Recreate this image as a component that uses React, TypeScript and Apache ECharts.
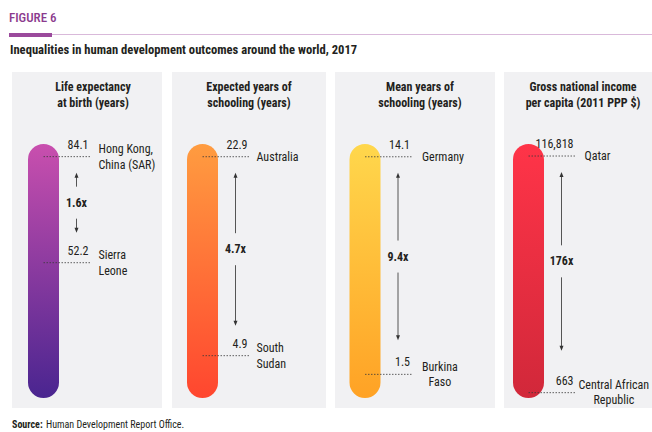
import React, { useEffect, useRef } from "react";
import * as echarts from "echarts";

// ---- data ----
const metricTitles = [
  "Life expectancy\nat birth (years)",
  "Expected years of\nschooling (years)",
  "Mean years of\nschooling (years)",
  "Gross national income\nper capita (2011 PPP $)",
];
const highValues = [84.1, 22.9, 14.1, 116818];
const highCountries = ["Hong Kong,\nChina (SAR)", "Australia", "Germany", "Qatar"];
const lowValues = [52.2, 4.9, 1.5, 663];
const lowCountries = ["Sierra\nLeone", "South\nSudan", "Burkina\nFaso", "Central African\nRepublic"];
const ratioLabels = ["1.6x", "4.7x", "9.4x", "176x"];
const valueDecimals = [1, 1, 1, 0];

// ---- layout / style ----
const FONT = "'Liberation Sans Narrow', 'Roboto Condensed', 'DejaVu Sans Condensed', 'Liberation Sans', sans-serif";
const panelRects = [
  [12, 72, 150, 336],
  [172, 72, 154, 336],
  [335, 72, 160, 336],
  [504, 72, 148, 336],
];
const barCenters = [43.5, 202.5, 365, 528.5];
const titleCenters = [93, 249, 420, 583];
const axisTypes = ["value", "value", "value", "log"];
const axisMins = [11.5, 1.07, 0.13, 590];
const axisMaxs = [87.9, 24.05, 14.84, 151900];
const countryAlign = ["left", "left", "center", "center"];
const highCountryGap = [7, 6, 9, 8];
const lowCountryGap = [7, 6, 9, 2];
const arrowEndGap = [30, 30, 34, 42];
const barGradients = [
  ["#c94fae", "#4a2590"],
  ["#ff9c40", "#ff462f"],
  ["#ffd74c", "#ffa225"],
  ["#ff3448", "#d1283a"],
];

const BAR_W = 31;
const BAR_TOP = 144;
const BAR_H = 254;

function fmt(v: number, d: number) {
  return v.toLocaleString("en-US", { minimumFractionDigits: d, maximumFractionDigits: d });
}

function countryText(label: string, align: string, x: number, y: number) {
  const lines = label.split("\n");
  if (align === "center") {
    return {
      type: "text",
      style: {
        text: lines.map((l) => "{c|" + l + "}").join("\n"),
        x,
        y,
        align: "left",
        verticalAlign: "middle",
        rich: {
          c: { align: "center", fontSize: 12, fontFamily: FONT, fill: "#231f20", lineHeight: 15.5 },
        },
      },
    };
  }
  return {
    type: "text",
    style: {
      text: label,
      x,
      y,
      align: "left",
      verticalAlign: "middle",
      fontSize: 12,
      fontFamily: FONT,
      fill: "#231f20",
      lineHeight: 16,
    },
  };
}

function makeRenderItem(i: number) {
  return (params: any, api: any) => {
    const cs = params.coordSys;
    const cx = cs.x + cs.width / 2;
    const hi = api.value(1);
    const lo = api.value(2);
    const yHi = api.coord([0.5, hi])[1];
    const yLo = api.coord([0.5, lo])[1];
    const lineEnd = cx + 48;
    const ax = cx + 33;
    const upTip = yHi + 16;
    const downTip = yLo - arrowEndGap[i];
    const mid = (upTip + downTip) / 2;
    const children: any[] = [
      {
        type: "rect",
        shape: { x: cs.x, y: cs.y, width: cs.width, height: cs.height, r: cs.width / 2 },
        style: {
          fill: new echarts.graphic.LinearGradient(0, 0, 0, 1, [
            { offset: 0, color: barGradients[i][0] },
            { offset: 1, color: barGradients[i][1] },
          ]),
        },
      },
    ];
    const marks: [number, number, string, number][] = [
      [yHi, hi, highCountries[i], highCountryGap[i]],
      [yLo, lo, lowCountries[i], lowCountryGap[i]],
    ];
    marks.forEach(([y, v, c, g]) => {
      children.push({
        type: "line",
        shape: { x1: cx, y1: y, x2: lineEnd, y2: y },
        style: { stroke: "#3a3a3a", lineWidth: 0.8, lineDash: [1.5, 1.5] },
      });
      children.push({
        type: "text",
        style: {
          text: fmt(v, valueDecimals[i]),
          x: lineEnd - 3,
          y: y - 12,
          align: "right",
          verticalAlign: "middle",
          fontSize: 12,
          fontFamily: FONT,
          fill: "#231f20",
        },
      });
      children.push(countryText(c, countryAlign[i], lineEnd + g, y));
    });
    // arrows
    children.push({
      type: "line",
      shape: { x1: ax, y1: upTip + 3, x2: ax, y2: mid - 16 },
      style: { stroke: "#555", lineWidth: 1 },
    });
    children.push({
      type: "polygon",
      shape: { points: [[ax, upTip], [ax - 2, upTip + 5], [ax + 2, upTip + 5]] },
      style: { fill: "#333" },
    });
    children.push({
      type: "line",
      shape: { x1: ax, y1: mid + 16, x2: ax, y2: downTip - 3 },
      style: { stroke: "#555", lineWidth: 1 },
    });
    children.push({
      type: "polygon",
      shape: { points: [[ax, downTip], [ax - 2, downTip - 5], [ax + 2, downTip - 5]] },
      style: { fill: "#333" },
    });
    children.push({
      type: "text",
      style: {
        text: ratioLabels[i],
        x: ax,
        y: mid,
        align: "center",
        verticalAlign: "middle",
        fontSize: 12,
        fontWeight: "bold",
        fontFamily: FONT,
        fill: "#231f20",
      },
    });
    return { type: "group", children };
  };
}

export default function App() {
  const ref = useRef<HTMLDivElement>(null);
  useEffect(() => {
    document.body.style.margin = "0";
    const chart = echarts.init(ref.current!, null, { renderer: "svg" });
    const idx = [0, 1, 2, 3];
    const graphics: any[] = [
      {
        type: "text",
        style: { text: "FIGURE 6", x: 9, y: 17, verticalAlign: "middle", fontSize: 13, fontWeight: 500, fontFamily: FONT, fill: "#8b3a8e" },
      },
      { type: "rect", shape: { x: 9, y: 33, width: 43, height: 4 }, style: { fill: "#9b4a9c" } },
      { type: "line", shape: { x1: 52, y1: 34.5, x2: 652, y2: 34.5 }, style: { stroke: "#d9b9da", lineWidth: 1 } },
      {
        type: "text",
        style: {
          text: "Inequalities in human development outcomes around the world, 2017",
          x: 10,
          y: 49,
          verticalAlign: "middle",
          fontSize: 12.6,
          fontWeight: "bold",
          fontFamily: FONT,
          fill: "#231f20",
        },
      },
      ...idx.map((i) => ({
        type: "rect",
        z: 0,
        shape: { x: panelRects[i][0], y: panelRects[i][1], width: panelRects[i][2], height: panelRects[i][3] },
        style: { fill: "#f1f1f3" },
      })),
      ...idx.map((i) => ({
        type: "text",
        z: 1,
        style: {
          text: metricTitles[i],
          x: titleCenters[i],
          y: 95,
          align: "center",
          verticalAlign: "middle",
          fontSize: 12,
          fontWeight: "bold",
          lineHeight: 16.5,
          fontFamily: FONT,
          fill: "#231f20",
        },
      })),
      {
        type: "text",
        style: {
          text: "{b|Source:} {r|Human Development Report Office.}",
          x: 12,
          y: 424,
          verticalAlign: "middle",
          rich: {
            b: { fontSize: 10, fontWeight: "bold", fontFamily: FONT, fill: "#231f20" },
            r: { fontSize: 10, fontFamily: FONT, fill: "#231f20" },
          },
        },
      },
    ];
    chart.setOption({
      animation: false,
      grid: idx.map((i) => ({
        left: barCenters[i] - BAR_W / 2,
        width: BAR_W,
        top: BAR_TOP,
        height: BAR_H,
      })),
      xAxis: idx.map((i) => ({ gridIndex: i, type: "value", min: 0, max: 1, show: false })),
      yAxis: idx.map((i) => ({
        gridIndex: i,
        type: axisTypes[i],
        min: axisMins[i],
        max: axisMaxs[i],
        show: false,
      })),
      graphic: graphics,
      series: idx.map((i) => ({
        type: "custom",
        xAxisIndex: i,
        yAxisIndex: i,
        clip: false,
        data: [[0.5, highValues[i], lowValues[i]]],
        encode: { x: 0, y: [1, 2] },
        renderItem: makeRenderItem(i),
      })),
    });
    return () => chart.dispose();
  }, []);
  return <div ref={ref} style={{ width: 652, height: 432 }} />;
}
